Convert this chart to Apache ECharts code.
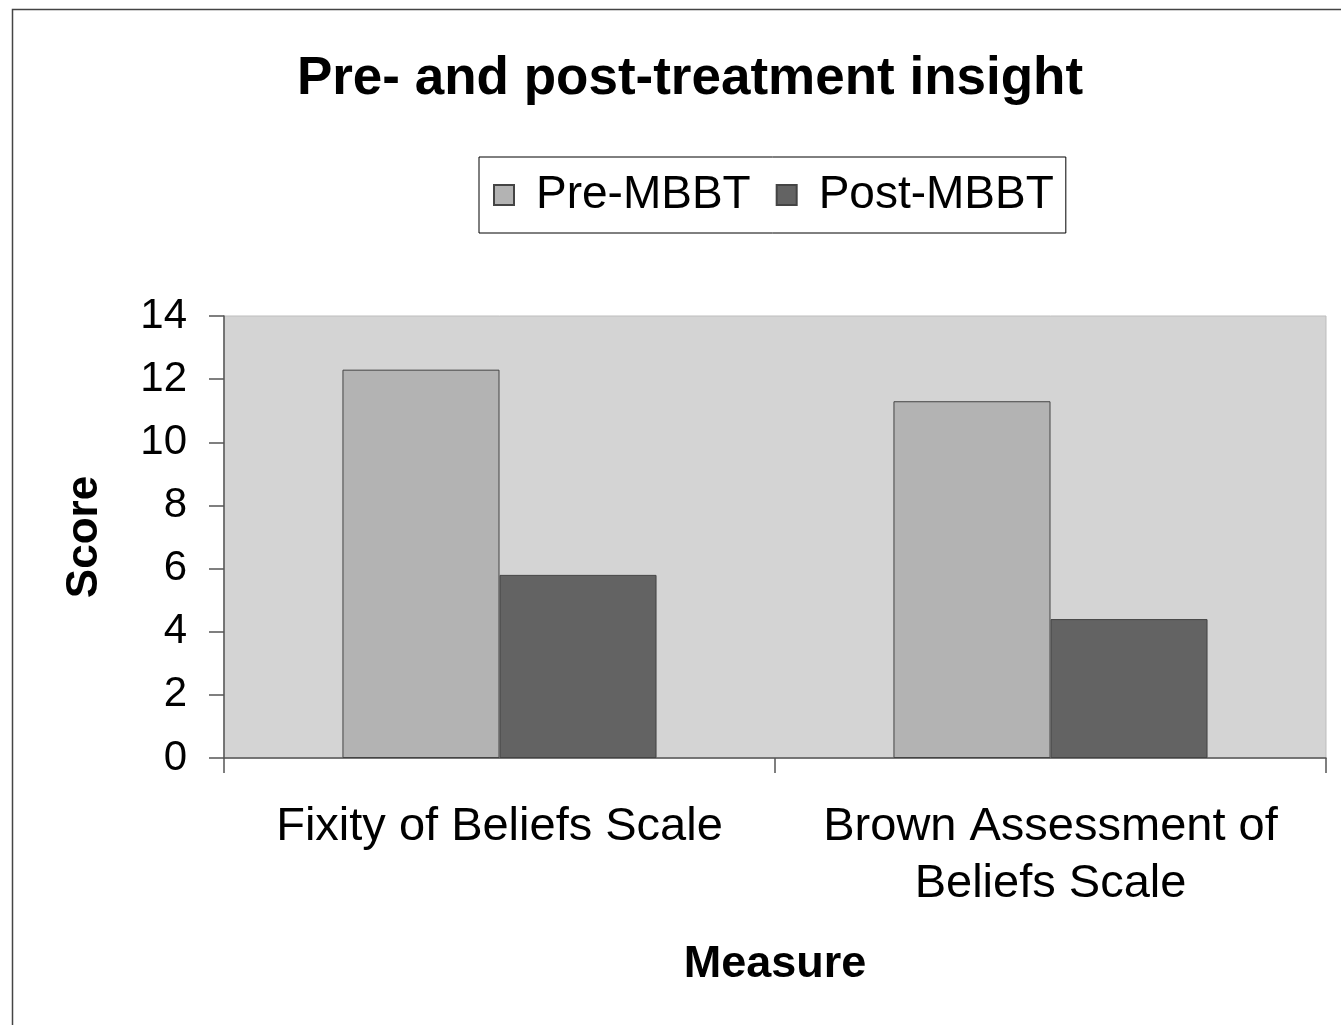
<!DOCTYPE html>
<html>
<head>
<meta charset="utf-8">
<script src="https://cdn.jsdelivr.net/npm/echarts@6/dist/echarts.min.js"></script>
<style>
html,body{margin:0;padding:0;background:#fff;}
#chart{width:1341px;height:1025px;}
</style>
</head>
<body>
<div id="chart"></div>
<script>
const categories = ['Fixity of Beliefs Scale', 'Brown Assessment of\nBeliefs Scale'];
const seriesNames = ['Pre-MBBT', 'Post-MBBT'];
const preValues = [12.3, 11.3];
const postValues = [5.8, 4.4];
const yTicks = {min: 0, max: 14, interval: 2};

const font = '"Liberation Sans", Arial, sans-serif';
const chart = echarts.init(document.getElementById('chart'), null, {renderer: 'canvas'});
chart.setOption({
  animation: false,
  backgroundColor: '#ffffff',
  textStyle: {fontFamily: font},
  graphic: [{
    type: 'rect', left: 10, top: 7, silent: true,
    shape: {width: 1400, height: 1100},
    style: {fill: 'none', stroke: '#444', lineWidth: 1.5}
  }],
  title: {
    text: 'Pre- and post-treatment insight',
    left: 685, top: 48, textAlign: 'center',
    textStyle: {fontFamily: font, fontSize: 53, fontWeight: 'bold', color: '#000'}
  },
  legend: {
    data: seriesNames,
    left: 479, top: 157,
    padding: [15, 12, 15, 14],
    borderColor: '#000', borderWidth: 1,
    itemWidth: 20, itemHeight: 20, itemGap: 25,
    icon: 'rect',
    textStyle: {fontFamily: font, fontSize: 46, color: '#000', padding: [0, 0, 0, 17]}
  },
  grid: {
    left: 224, right: 15, top: 316, bottom: 267,
    show: true, backgroundColor: '#d4d4d4', borderColor: '#bdbdbd', borderWidth: 1,
    containLabel: false
  },
  xAxis: {
    type: 'category', data: categories,
    name: 'Measure', nameLocation: 'middle', nameGap: 184,
    nameTextStyle: {fontFamily: font, fontSize: 45, fontWeight: 'bold', color: '#000'},
    axisLine: {show: true, lineStyle: {color: '#555', width: 1.5}},
    axisTick: {show: true, length: 15, lineStyle: {color: '#555', width: 1.5}},
    axisLabel: {interval: 0, hideOverlap: false, fontFamily: font, fontSize: 47, lineHeight: 57, color: '#000', margin: 41}
  },
  yAxis: {
    type: 'value', min: yTicks.min, max: yTicks.max, interval: yTicks.interval,
    name: 'Score', nameLocation: 'middle', nameGap: 117, nameRotate: 90,
    nameTextStyle: {fontFamily: font, fontSize: 44, fontWeight: 'bold', color: '#000'},
    axisLine: {show: true, lineStyle: {color: '#555', width: 1.5}},
    axisTick: {show: true, length: 15, lineStyle: {color: '#555', width: 1.5}},
    splitLine: {show: false},
    axisLabel: {fontFamily: font, fontSize: 42, color: '#000', margin: 37}
  },
  series: [
    {
      name: seriesNames[0], type: 'bar', data: preValues,
      barCategoryGap: '43%', barGap: '0%',
      itemStyle: {color: '#b3b3b3', borderColor: '#444', borderWidth: 1}
    },
    {
      name: seriesNames[1], type: 'bar', data: postValues,
      barCategoryGap: '43%', barGap: '0%',
      itemStyle: {color: '#636363', borderColor: '#444', borderWidth: 1}
    }
  ]
});
</script>
</body>
</html>
